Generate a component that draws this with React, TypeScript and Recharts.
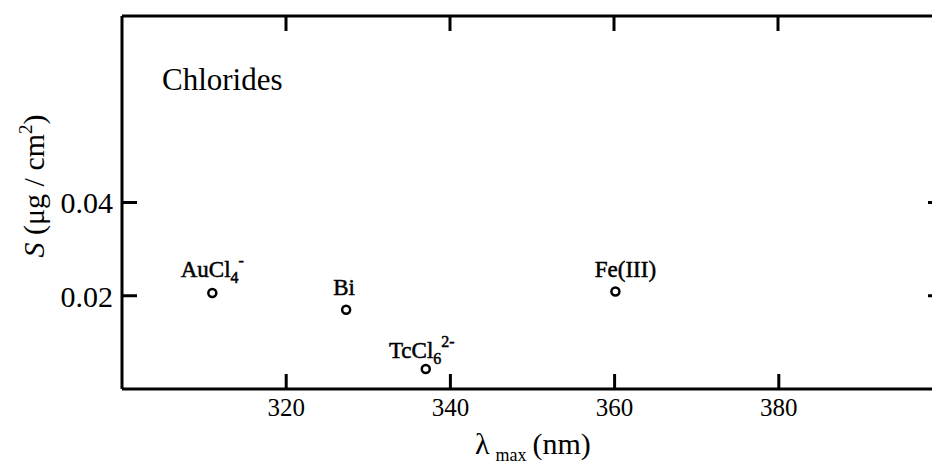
import { ScatterChart, Scatter, XAxis, YAxis } from "recharts";

// λmax (nm) and S (µg/cm²)
const WAVELENGTH = [311.0, 327.3, 337.0, 360.1];
const SENSITIVITY = [0.0206, 0.017, 0.0043, 0.0209];
const SPECIES = ["AuCl", "Bi", "TcCl", "Fe(III)"];
const SPECIES_SUB = ["4", "", "6", ""];
const SPECIES_SUP = ["-", "", "2-", ""];

const X_TICKS = [320, 340, 360, 380];
const Y_TICKS = [0.02, 0.04];

const X_DOMAIN = [300, 400];
const Y_DOMAIN = [0, 0.08];

const FONT = "'Liberation Serif', 'Times New Roman', serif";
const INK = "#000";

// plot box inside the chart svg
const TOP = 8;
const LEFT = 114;
const CHART_W = 945;
const RIGHT_GAP = 11;
const TICK_LEN = 15;

const rows = WAVELENGTH.map((x, i) => ({ x, y: SENSITIVITY[i], i }));

// small nudges so labels sit like the printed ones
const LABEL_DX = [0, -2, -4, 10];
const LABEL_DY = [-16, -15, -11, -15];

function Marker(props: any) {
  const { cx, cy, payload } = props;
  const i = payload.i;
  return (
    <g>
      <circle cx={cx} cy={cy} r={4} fill="#fff" stroke={INK} strokeWidth={2.5} />
      <text
        x={cx + LABEL_DX[i]}
        y={cy + LABEL_DY[i]}
        textAnchor="middle"
        fontFamily={FONT}
        fontSize={23}
        fill={INK}
        stroke={INK}
        strokeWidth={0.5}
      >
        {SPECIES[i]}
        {SPECIES_SUB[i] && (
          <tspan dy={6} fontSize={16}>
            {SPECIES_SUB[i]}
          </tspan>
        )}
        {SPECIES_SUP[i] && (
          <tspan dy={SPECIES_SUB[i] ? -17 : -10} fontSize={16}>
            {SPECIES_SUP[i]}
          </tspan>
        )}
      </text>
    </g>
  );
}

function XTick(props: any) {
  const { x, y, payload } = props;
  return (
    <text x={x} y={y} dy="0.72em" textAnchor="middle" fontFamily={FONT} fontSize={25} fill={INK}>
      {payload.value}
    </text>
  );
}

function YTick(props: any) {
  const { x, y, payload } = props;
  return (
    <text x={x} y={y} dy="0.36em" textAnchor="end" fontFamily={FONT} fontSize={30} fill={INK}>
      {payload.value.toFixed(2)}
    </text>
  );
}

// the top frame ticks would not render through recharts, so they go in the overlay
const plotW = CHART_W - RIGHT_GAP - LEFT;
const topTickX = (t: number) => LEFT + ((t - X_DOMAIN[0]) / (X_DOMAIN[1] - X_DOMAIN[0])) * plotW;

const axisLine = { stroke: INK, strokeWidth: 3 };
const tickLine = { stroke: INK, strokeWidth: 3 };
const blank = () => "";
const noMark = () => null;

export default function App() {
  return (
    <div
      style={{
        position: "relative",
        width: 932,
        height: 465,
        overflow: "hidden",
        fontFamily: FONT,
      }}
    >
      <ScatterChart
        width={CHART_W}
        height={465}
        margin={{ top: TOP, right: RIGHT_GAP - 1, bottom: 0, left: 0 }}
      >
        <XAxis
          xAxisId="b"
          dataKey="x"
          type="number"
          domain={X_DOMAIN}
          ticks={X_TICKS}
          interval={0}
          height={84}
          axisLine={axisLine}
          tickLine={tickLine}
          tickSize={-TICK_LEN}
          tickMargin={24}
          tick={<XTick />}
          allowDataOverflow
        />
        <XAxis
          xAxisId="t"
          dataKey="x"
          orientation="top"
          type="number"
          domain={X_DOMAIN}
          ticks={X_TICKS}
          interval={0}
          height={1}
          mirror
          axisLine={axisLine}
          tickLine={false}
          tick={false}
          allowDataOverflow
        />
        <YAxis
          yAxisId="l"
          dataKey="y"
          type="number"
          domain={Y_DOMAIN}
          ticks={Y_TICKS}
          interval={0}
          width={LEFT}
          axisLine={axisLine}
          tickLine={tickLine}
          tickSize={-TICK_LEN}
          tickMargin={24}
          tick={<YTick />}
          allowDataOverflow
        />
        <YAxis
          yAxisId="r"
          dataKey="y"
          orientation="right"
          type="number"
          domain={Y_DOMAIN}
          ticks={Y_TICKS}
          interval={0}
          width={1}
          mirror
          axisLine={axisLine}
          tickLine={tickLine}
          tickSize={TICK_LEN}
          tickFormatter={blank}
          allowDataOverflow
        />
        {/* invisible twin series so the top and right frame axes get drawn */}
        <Scatter data={rows} xAxisId="t" yAxisId="r" shape={noMark} isAnimationActive={false} />
        <Scatter data={rows} xAxisId="b" yAxisId="l" shape={<Marker />} isAnimationActive={false} />
      </ScatterChart>
      <svg
        width={932}
        height={465}
        style={{ position: "absolute", left: 0, top: 0, pointerEvents: "none" }}
      >
        {X_TICKS.map((t) => (
          <line
            key={t}
            x1={topTickX(t)}
            x2={topTickX(t)}
            y1={TOP}
            y2={TOP + TICK_LEN}
            stroke={INK}
            strokeWidth={3}
          />
        ))}
        <text x={154} y={82} fontFamily={FONT} fontSize={31} fill={INK}>
          Chlorides
        </text>
        <text
          transform="translate(36, 178) rotate(-90)"
          textAnchor="middle"
          fontFamily={FONT}
          fontSize={30}
          fill={INK}
        >
          <tspan fontStyle="italic">S</tspan>
          {"  (μg / cm"}
          <tspan dy={-12} fontSize={19}>
            2
          </tspan>
          <tspan dy={12}>)</tspan>
        </text>
        <text x={467} y={446} fontFamily={FONT} fontSize={30} fill={INK}>
          λ
          <tspan dx={6} dy={7} fontSize={18}>
            max
          </tspan>
          <tspan dx={6} dy={-7}>
            (nm)
          </tspan>
        </text>
      </svg>
    </div>
  );
}
